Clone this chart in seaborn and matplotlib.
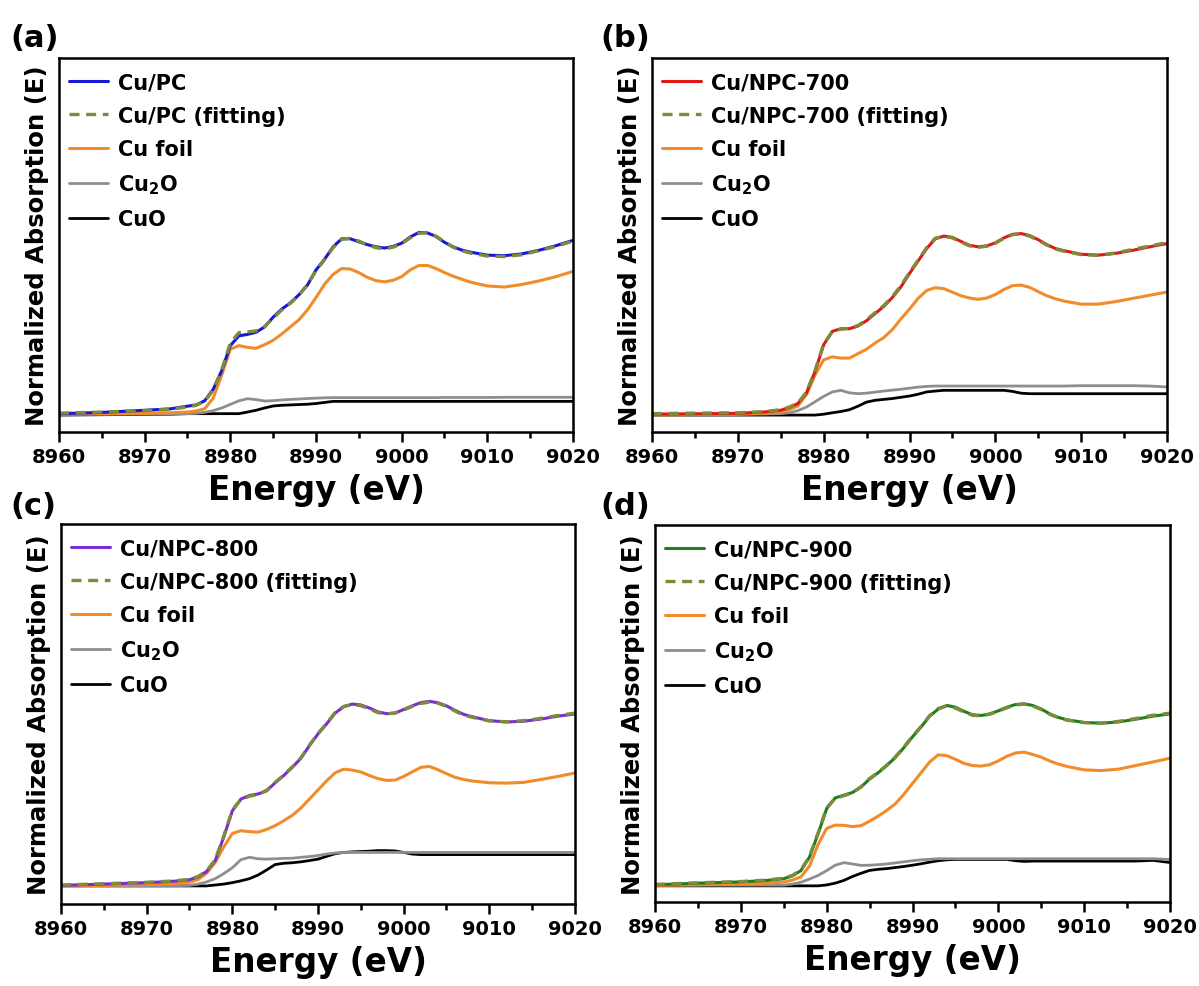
import matplotlib
matplotlib.use("Agg")
import matplotlib.pyplot as plt
import seaborn as sns
import pandas as pd
from matplotlib.ticker import MultipleLocator

# ---------------- data ----------------
energy = [8960, 8965, 8970, 8973, 8975, 8976, 8977, 8978, 8979, 8980, 8981, 8982, 8983,
          8984, 8985, 8986, 8987, 8988, 8989, 8990, 8991, 8992, 8993, 8994, 8995, 8996,
          8997, 8998, 8999, 9000, 9001, 9002, 9003, 9004, 9005, 9006, 9007, 9008, 9010,
          9012, 9014, 9016, 9018, 9020]

# (a) Cu/PC
a_sample = [0.003, 0.010, 0.022, 0.030, 0.045, 0.052, 0.075, 0.140, 0.245, 0.385, 0.440, 0.448, 0.460,
            0.490, 0.545, 0.590, 0.625, 0.670, 0.725, 0.810, 0.870, 0.940, 0.985, 0.985, 0.968, 0.952,
            0.940, 0.933, 0.942, 0.960, 0.995, 1.020, 1.018, 0.998, 0.965, 0.940, 0.922, 0.910, 0.893,
            0.890, 0.900, 0.920, 0.946, 0.976]
a_fit = [0.006, 0.012, 0.020, 0.028, 0.040, 0.050, 0.072, 0.135, 0.250, 0.400, 0.458, 0.462, 0.468,
         0.492, 0.540, 0.585, 0.622, 0.668, 0.728, 0.805, 0.868, 0.935, 0.982, 0.988, 0.972, 0.950,
         0.935, 0.928, 0.938, 0.958, 0.990, 1.015, 1.020, 1.000, 0.968, 0.938, 0.918, 0.905, 0.888,
         0.885, 0.895, 0.918, 0.942, 0.972]
a_foil = [0.000, 0.002, 0.005, 0.008, 0.012, 0.018, 0.030, 0.090, 0.220, 0.365, 0.385, 0.375, 0.370,
          0.390, 0.415, 0.450, 0.490, 0.530, 0.585, 0.655, 0.730, 0.785, 0.818, 0.815, 0.795, 0.768,
          0.750, 0.743, 0.752, 0.772, 0.810, 0.835, 0.835, 0.818, 0.795, 0.775, 0.758, 0.742, 0.720,
          0.714, 0.728, 0.748, 0.772, 0.802]
a_cu2o = [0.000, 0.000, 0.001, 0.002, 0.003, 0.005, 0.010, 0.020, 0.035, 0.055, 0.075, 0.087, 0.082,
          0.074, 0.076, 0.080, 0.083, 0.085, 0.088, 0.090, 0.092, 0.093, 0.093, 0.093, 0.093, 0.093,
          0.093, 0.093, 0.093, 0.093, 0.093, 0.093, 0.093, 0.093, 0.094, 0.094, 0.094, 0.094, 0.094,
          0.095, 0.095, 0.095, 0.095, 0.095]
a_cuo = [-0.005, -0.003, -0.001, 0.000, 0.003, 0.003, 0.003, 0.003, 0.003, 0.003, 0.003, 0.012, 0.022,
         0.035, 0.046, 0.050, 0.052, 0.054, 0.056, 0.060, 0.066, 0.072, 0.072, 0.072, 0.072, 0.072,
         0.072, 0.072, 0.072, 0.072, 0.072, 0.072, 0.072, 0.072, 0.072, 0.072, 0.072, 0.072, 0.072,
         0.072, 0.072, 0.072, 0.072, 0.072]

# (b) Cu/NPC-700
b_sample = [0.000, 0.002, 0.005, 0.012, 0.022, 0.038, 0.060, 0.120, 0.240, 0.390, 0.465, 0.480, 0.480,
            0.495, 0.525, 0.565, 0.605, 0.655, 0.715, 0.790, 0.860, 0.930, 0.985, 1.000, 0.993, 0.970,
            0.948, 0.940, 0.945, 0.962, 0.990, 1.010, 1.014, 1.003, 0.980, 0.952, 0.930, 0.918, 0.898,
            0.893, 0.903, 0.920, 0.940, 0.958]
b_fit = [0.003, 0.006, 0.008, 0.014, 0.025, 0.040, 0.062, 0.125, 0.245, 0.395, 0.462, 0.478, 0.482,
         0.498, 0.530, 0.570, 0.610, 0.660, 0.722, 0.795, 0.865, 0.935, 0.988, 0.998, 0.990, 0.966,
         0.945, 0.937, 0.943, 0.960, 0.988, 1.008, 1.012, 1.000, 0.976, 0.950, 0.928, 0.915, 0.896,
         0.892, 0.905, 0.925, 0.945, 0.963]
b_foil = [-0.004, -0.002, 0.000, 0.005, 0.012, 0.025, 0.047, 0.110, 0.220, 0.305, 0.322, 0.315, 0.315,
          0.340, 0.365, 0.400, 0.430, 0.475, 0.535, 0.590, 0.650, 0.695, 0.710, 0.705, 0.685, 0.665,
          0.652, 0.645, 0.652, 0.672, 0.700, 0.722, 0.725, 0.712, 0.688, 0.665, 0.648, 0.635, 0.618,
          0.618, 0.632, 0.650, 0.668, 0.686]
b_cu2o = [0.000, 0.000, 0.000, 0.001, 0.003, 0.008, 0.020, 0.040, 0.070, 0.100, 0.125, 0.134, 0.120,
          0.115, 0.118, 0.124, 0.130, 0.135, 0.140, 0.146, 0.152, 0.156, 0.158, 0.158, 0.158, 0.158,
          0.158, 0.158, 0.158, 0.158, 0.158, 0.158, 0.158, 0.158, 0.158, 0.158, 0.158, 0.158, 0.160,
          0.160, 0.160, 0.160, 0.158, 0.153]
b_cuo = [-0.005, -0.005, -0.005, -0.005, -0.005, -0.005, -0.005, -0.005, -0.005, 0.000, 0.008, 0.015, 0.025,
         0.045, 0.068, 0.078, 0.083, 0.088, 0.095, 0.102, 0.112, 0.125, 0.130, 0.134, 0.134, 0.134,
         0.134, 0.134, 0.134, 0.134, 0.134, 0.128, 0.118, 0.115, 0.115, 0.115, 0.115, 0.115, 0.115,
         0.115, 0.115, 0.115, 0.115, 0.115]

# (c) Cu/NPC-800
c_sample = [0.003, 0.010, 0.018, 0.025, 0.034, 0.050, 0.080, 0.140, 0.270, 0.415, 0.480, 0.500, 0.508,
            0.525, 0.570, 0.610, 0.655, 0.705, 0.775, 0.840, 0.895, 0.955, 0.990, 1.005, 1.000, 0.983,
            0.962, 0.952, 0.955, 0.975, 0.995, 1.013, 1.020, 1.012, 0.995, 0.970, 0.948, 0.935, 0.913,
            0.906, 0.910, 0.922, 0.938, 0.950]
c_fit = [0.005, 0.012, 0.020, 0.027, 0.036, 0.052, 0.082, 0.145, 0.275, 0.420, 0.478, 0.496, 0.505,
         0.528, 0.572, 0.612, 0.658, 0.708, 0.778, 0.842, 0.898, 0.958, 0.992, 1.002, 0.996, 0.978,
         0.958, 0.950, 0.956, 0.972, 0.992, 1.008, 1.016, 1.010, 0.992, 0.966, 0.945, 0.932, 0.912,
         0.907, 0.913, 0.926, 0.942, 0.955]
c_foil = [0.000, 0.003, 0.008, 0.013, 0.020, 0.035, 0.070, 0.130, 0.215, 0.290, 0.305, 0.300, 0.297,
          0.312, 0.333, 0.360, 0.390, 0.430, 0.480, 0.530, 0.580, 0.625, 0.645, 0.640, 0.630, 0.610,
          0.593, 0.583, 0.585, 0.605, 0.630, 0.655, 0.660, 0.642, 0.620, 0.600, 0.588, 0.580, 0.570,
          0.568, 0.572, 0.588, 0.605, 0.624]
c_cu2o = [0.001, 0.001, 0.001, 0.001, 0.003, 0.010, 0.022, 0.040, 0.068, 0.100, 0.145, 0.158, 0.150,
          0.148, 0.150, 0.152, 0.153, 0.158, 0.162, 0.168, 0.176, 0.182, 0.185, 0.185, 0.185, 0.185,
          0.185, 0.185, 0.185, 0.185, 0.185, 0.185, 0.185, 0.185, 0.185, 0.185, 0.185, 0.185, 0.185,
          0.185, 0.185, 0.185, 0.185, 0.185]
c_cuo = [0.000, 0.000, 0.000, 0.000, 0.000, 0.000, 0.000, 0.005, 0.010, 0.018, 0.028, 0.040, 0.060,
         0.088, 0.118, 0.125, 0.128, 0.133, 0.140, 0.148, 0.163, 0.178, 0.185, 0.188, 0.190, 0.192,
         0.195, 0.195, 0.193, 0.185, 0.176, 0.173, 0.173, 0.173, 0.173, 0.173, 0.173, 0.173, 0.173,
         0.173, 0.173, 0.173, 0.173, 0.173]

# (d) Cu/NPC-900
d_sample = [-0.004, 0.005, 0.012, 0.020, 0.030, 0.045, 0.075, 0.150, 0.280, 0.420, 0.480, 0.495, 0.510,
            0.540, 0.585, 0.620, 0.660, 0.705, 0.760, 0.820, 0.875, 0.935, 0.975, 0.995, 0.985, 0.962,
            0.943, 0.939, 0.948, 0.965, 0.985, 1.000, 1.004, 0.995, 0.975, 0.948, 0.928, 0.915, 0.900,
            0.896, 0.903, 0.918, 0.935, 0.948]
d_fit = [-0.002, 0.007, 0.014, 0.022, 0.033, 0.048, 0.078, 0.155, 0.285, 0.425, 0.478, 0.492, 0.508,
         0.542, 0.588, 0.622, 0.662, 0.708, 0.764, 0.823, 0.878, 0.938, 0.978, 0.992, 0.980, 0.958,
         0.940, 0.937, 0.946, 0.962, 0.982, 0.998, 1.002, 0.992, 0.972, 0.945, 0.926, 0.913, 0.899,
         0.897, 0.906, 0.922, 0.940, 0.952]
d_foil = [-0.007, -0.004, 0.000, 0.005, 0.011, 0.022, 0.040, 0.100, 0.220, 0.310, 0.328, 0.327, 0.320,
          0.325, 0.350, 0.378, 0.410, 0.447, 0.500, 0.560, 0.620, 0.680, 0.720, 0.715, 0.695, 0.672,
          0.660, 0.657, 0.665, 0.686, 0.712, 0.730, 0.735, 0.722, 0.707, 0.685, 0.668, 0.655, 0.636,
          0.632, 0.640, 0.660, 0.680, 0.701]
d_cu2o = [-0.006, -0.006, -0.006, -0.006, -0.006, 0.000, 0.010, 0.028, 0.048, 0.075, 0.105, 0.119, 0.112,
          0.104, 0.105, 0.108, 0.112, 0.118, 0.124, 0.130, 0.135, 0.138, 0.141, 0.141, 0.141, 0.141,
          0.141, 0.141, 0.141, 0.141, 0.141, 0.141, 0.141, 0.141, 0.141, 0.141, 0.141, 0.141, 0.141,
          0.141, 0.141, 0.141, 0.141, 0.137]
d_cuo = [-0.010, -0.010, -0.010, -0.010, -0.010, -0.010, -0.010, -0.010, -0.010, -0.005, 0.005, 0.020, 0.042,
         0.060, 0.076, 0.082, 0.086, 0.092, 0.098, 0.105, 0.113, 0.122, 0.130, 0.135, 0.137, 0.137,
         0.137, 0.137, 0.137, 0.137, 0.137, 0.130, 0.126, 0.128, 0.128, 0.128, 0.128, 0.128, 0.128,
         0.128, 0.128, 0.128, 0.132, 0.120]

sample_names = ["Cu/PC", "Cu/NPC-700", "Cu/NPC-800", "Cu/NPC-900"]
panel_tags = ["(a)", "(b)", "(c)", "(d)"]
x_ticks = [8960, 8970, 8980, 8990, 9000, 9010, 9020]

# ---------------- style ----------------
sns.set_style("ticks")
plt.rcParams["font.family"] = ["DejaVu Sans"]
plt.rcParams["font.weight"] = "bold"
plt.rcParams["mathtext.fontset"] = "dejavusans"
plt.rcParams["text.color"] = "black"
plt.rcParams["axes.labelcolor"] = "black"
plt.rcParams["xtick.color"] = "black"
plt.rcParams["ytick.color"] = "black"
plt.rcParams["axes.edgecolor"] = "black"

sample_colors = ["#1818d8", "#e01818", "#7a2ed2", "#1f7f1f"]
fit_color = "#7d8b3a"
foil_color = "#f28b2a"
cu2o_color = "#8e8e8e"
cuo_color = "#000000"

fig = plt.figure(figsize=(11.99, 9.87), dpi=100)

W, H = 1199.0, 987.0
# axes boxes in pixels: left, right, top, bottom
boxes = [(59, 573, 59, 433), (652, 1167, 59, 433), (61, 575, 525, 905), (655, 1170, 526, 903)]
tag_pos = [(10, 47), (600, 47), (10, 515), (600, 515)]

panels = [
    (a_sample, a_fit, a_foil, a_cu2o, a_cuo),
    (b_sample, b_fit, b_foil, b_cu2o, b_cuo),
    (c_sample, c_fit, c_foil, c_cu2o, c_cuo),
    (d_sample, d_fit, d_foil, d_cu2o, d_cuo),
]

for i, (sample, fit, foil, cu2o, cuo) in enumerate(panels):
    l, r, t, b = boxes[i]
    ax = fig.add_axes([l / W, 1 - b / H, (r - l) / W, (b - t) / H])
    name = sample_names[i]

    sns.lineplot(x=energy, y=cuo, ax=ax, color=cuo_color, lw=2.0, label="CuO")
    sns.lineplot(x=energy, y=cu2o, ax=ax, color=cu2o_color, lw=2.0, label=r"Cu$_\mathbf{2}$O")
    sns.lineplot(x=energy, y=foil, ax=ax, color=foil_color, lw=2.2, label="Cu foil")
    sns.lineplot(x=energy, y=sample, ax=ax, color=sample_colors[i], lw=2.2, label=name)
    sns.lineplot(x=energy, y=fit, ax=ax, color=fit_color, lw=2.4,
                 linestyle=(0, (3, 2)), label=name + " (fitting)")

    ax.set_xlim(8960, 9020)
    ax.set_ylim(-0.1, 2.0)
    ax.set_xticks(x_ticks)
    ax.xaxis.set_minor_locator(MultipleLocator(5))
    ax.set_yticks([])
    ax.tick_params(axis="x", which="major", direction="out", length=7, width=1.8,
                   labelsize=14, pad=4, colors="black")
    ax.tick_params(axis="x", which="minor", direction="out", length=4, width=1.8, colors="black")
    for s in ax.spines.values():
        s.set_linewidth(1.8)
        s.set_color("black")

    ax.set_xlabel("Energy (eV)", fontsize=23.5, fontweight="bold", labelpad=5, color="black")
    ax.set_ylabel("Normalized Absorption (E)", fontsize=17.5, fontweight="bold", color="black")
    ax.yaxis.set_label_coords(-0.02, 0.5)

    handles, labels = ax.get_legend_handles_labels()
    order = [name, name + " (fitting)", "Cu foil", r"Cu$_\mathbf{2}$O", "CuO"]
    hmap = dict(zip(labels, handles))
    leg = ax.legend([hmap[k] for k in order], order, loc="upper left",
                    bbox_to_anchor=(0.005, 1.0 - 7.0 / (b - t)),
                    frameon=False, fontsize=15, handlelength=1.9, handletextpad=0.45,
                    labelspacing=0.64, borderaxespad=0.0, borderpad=0.35)
    for txt in leg.get_texts():
        txt.set_color("black")

    fig.text(tag_pos[i][0] / W, 1 - tag_pos[i][1] / H, panel_tags[i], fontsize=22,
             fontweight="bold", ha="left", va="baseline", color="black")

fig.savefig("out.png", dpi=100)
